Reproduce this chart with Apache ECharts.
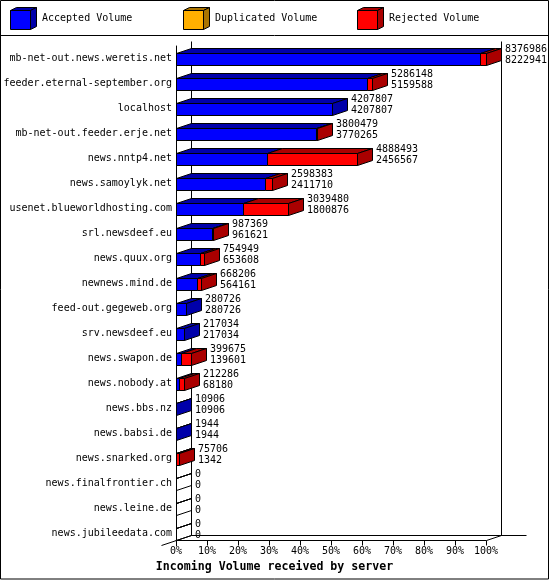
<!DOCTYPE html>
<html>
<head>
<meta charset="utf-8">
<script src="https://cdn.jsdelivr.net/npm/echarts@6/dist/echarts.min.js"></script>
<style>
html,body{margin:0;padding:0;background:#fff;}
#chart{width:550px;height:580px;}
</style>
</head>
<body>
<div id="chart"></div>
<script>
// ---- data ----
const categories = [
  'mb-net-out.news.weretis.net',
  'feeder.eternal-september.org',
  'localhost',
  'mb-net-out.feeder.erje.net',
  'news.nntp4.net',
  'news.samoylyk.net',
  'usenet.blueworldhosting.com',
  'srl.newsdeef.eu',
  'news.quux.org',
  'newnews.mind.de',
  'feed-out.gegeweb.org',
  'srv.newsdeef.eu',
  'news.swapon.de',
  'news.nobody.at',
  'news.bbs.nz',
  'news.babsi.de',
  'news.snarked.org',
  'news.finalfrontier.ch',
  'news.leine.de',
  'news.jubileedata.com'
];
const totalVolume = [8376986, 5286148, 4207807, 3800479, 4888493, 2598383, 3039480, 987369, 754949, 668206, 280726, 217034, 399675, 212286, 10906, 1944, 75706, 0, 0, 0];
const acceptedVolume = [8222941, 5159588, 4207807, 3770265, 2456567, 2411710, 1800876, 961621, 653608, 564161, 280726, 217034, 139601, 68180, 10906, 1944, 1342, 0, 0, 0];
const duplicatedVolume = [0, 0, 0, 0, 0, 0, 0, 0, 0, 0, 0, 0, 0, 0, 0, 0, 0, 0, 0, 0];
const seriesNames = ['Accepted Volume', 'Duplicated Volume', 'Rejected Volume'];
const axisTitle = 'Incoming Volume received by server';

// ---- styling ----
const FRONT = ['#0000ff', '#ffaf00', '#ff0000'];
const DARK = ['#0000aa', '#aa7400', '#aa0000'];
const DX = 15, DY = -5;
const FONT = '"DejaVu Sans Mono", "Liberation Mono", monospace';

// ---- derived data ----
const rejectedVolume = totalVolume.map((t, i) => t - acceptedVolume[i] - duplicatedVolume[i]);
const maxTotal = Math.max(...totalVolume);
const parts = categories.map((_, i) => [acceptedVolume[i], duplicatedVolume[i], rejectedVolume[i]]);
function pct(v) { return v / maxTotal * 100; }

const segData = [0, 1, 2].map(k => categories.map((_, i) => {
  const p = parts[i];
  let start = 0;
  for (let j = 0; j < k; j++) start += p[j];
  let lastIdx = -1;
  for (let j = 0; j < 3; j++) if (p[j] > 0) lastIdx = j;
  const empty = (totalVolume[i] === 0 && k === 0) ? 1 : 0;
  return [i, pct(start), pct(start + p[k]), k === lastIdx ? 1 : 0, empty];
}));
const labelData = categories.map((_, i) => [i, pct(totalVolume[i]), totalVolume[i], acceptedVolume[i]]);

function px(v) { return Math.round(v) + 0.5; }

function makeBarRenderer(k) {
  return function (params, api) {
    const i = api.value(0), s = api.value(1), e = api.value(2);
    const last = api.value(3), empty = api.value(4);
    if (!(e > s) && !empty) return null;
    const c = api.coord([0, i])[1];
    const top = Math.floor(c - 5) + 0.5;
    const bot = top + 12;
    const xa = px(api.coord([s, i])[0]);
    const xb = px(api.coord([e, i])[0]);
    const fill = empty ? 'rgba(0,0,0,0)' : FRONT[k];
    const dark = empty ? 'rgba(0,0,0,0)' : DARK[k];
    const st = (f) => ({ fill: f, stroke: '#000', lineWidth: 1 });
    const children = [];
    children.push({ type: 'polygon', shape: { points: [[xa, top], [xb, top], [xb, bot], [xa, bot]] }, style: st(fill) });
    children.push({ type: 'polygon', shape: { points: [[xa, top], [xb, top], [xb + DX, top + DY], [xa + DX, top + DY]] }, style: st(dark) });
    if (last || empty) {
      children.push({ type: 'polygon', shape: { points: [[xb, top], [xb + DX, top + DY], [xb + DX, bot + DY], [xb, bot]] }, style: st(dark) });
    }
    return { type: 'group', children: children };
  };
}

function renderLabels(params, api) {
  const i = api.value(0), e = api.value(1);
  const c = api.coord([0, i])[1];
  const x = px(api.coord([e, i])[0]) + DX + 3.5;
  const ts = (t) => ({ text: t, fill: '#000', font: '10px ' + FONT, align: 'left', verticalAlign: 'middle' });
  return {
    type: 'group',
    children: [
      { type: 'text', x: x, y: c - 9.2, style: ts(String(api.value(2))) },
      { type: 'text', x: x, y: c + 2.2, style: ts(String(api.value(3))) }
    ]
  };
}

function renderFrame(params, api) {
  const n = categories.length;
  const x0 = px(api.coord([0, 0])[0]);
  const x100 = px(api.coord([100, 0])[0]);
  const yTop = Math.floor(api.coord([0, 0])[1] - api.size([0, 1])[1] / 2) + 0.5;
  const yAx = Math.floor(api.coord([0, n - 1])[1] - 5) + 0.5 + 12;
  const ln = (a, b) => ({ type: 'line', shape: { x1: a[0], y1: a[1], x2: b[0], y2: b[1] }, style: { stroke: '#000', lineWidth: 1 } });
  return {
    type: 'group',
    children: [
      ln([x0 + DX, yTop + DY], [x0 + DX, yAx + DY]),
      ln([x100 + DX, yTop + DY], [x100 + DX, yAx + DY]),
      ln([x0 + DX, yAx + DY], [x100 + DX + 25, yAx + DY]),
      ln([x100, yAx], [x100 + DX, yAx + DY]),
      ln([x0 - DX, yAx - DY], [x0 + DX, yAx + DY])
    ]
  };
}

function cubeIcon(front, dark) {
  const svg = '<svg xmlns="http://www.w3.org/2000/svg" width="27" height="23" viewBox="0 0 27 23">' +
    '<polygon points="0.5,3.5 20.5,3.5 20.5,22.5 0.5,22.5" fill="' + front + '" stroke="#000" stroke-width="1"/>' +
    '<polygon points="0.5,3.5 6.5,0.5 26.5,0.5 20.5,3.5" fill="' + dark + '" stroke="#000" stroke-width="1"/>' +
    '<polygon points="20.5,3.5 26.5,0.5 26.5,19.5 20.5,22.5" fill="' + dark + '" stroke="#000" stroke-width="1"/>' +
    '</svg>';
  return 'image://data:image/svg+xml;charset=utf-8,' + encodeURIComponent(svg);
}

const legendLefts = [10, 183, 357];
const legends = seriesNames.map((name, k) => ({
  data: [{ name: name, icon: cubeIcon(FRONT[k], DARK[k]) }],
  left: legendLefts[k],
  top: 7,
  padding: 0,
  itemWidth: 27,
  itemHeight: 23,
  selectedMode: false,
  textStyle: { fontFamily: FONT, fontSize: 10, color: '#000' }
}));

const chart = echarts.init(document.getElementById('chart'), null, { renderer: 'canvas' });
chart.setOption({
  animation: false,
  backgroundColor: '#fff',
  legend: legends,
  grid: { left: 176, right: 64, top: 46, bottom: 34, containLabel: false },
  xAxis: {
    type: 'value',
    min: 0,
    max: 100,
    interval: 10,
    offset: -5.5,
    axisLine: { show: true, lineStyle: { color: '#000', width: 1 } },
    axisTick: { show: true, length: 5, inside: false, lineStyle: { color: '#000' } },
    axisLabel: { formatter: '{value}%', margin: 6, color: '#000', fontFamily: FONT, fontSize: 10 },
    splitLine: { show: false },
    name: axisTitle,
    nameLocation: 'middle',
    nameGap: 19,
    nameTextStyle: { fontFamily: FONT, fontWeight: 'bold', fontSize: 11.6, color: '#000', padding: [0, 113, 0, 0] }
  },
  yAxis: {
    type: 'category',
    inverse: true,
    data: categories,
    axisLine: { show: true, lineStyle: { color: '#000', width: 1 } },
    axisTick: { show: false },
    axisLabel: { interval: 0, margin: 4, color: '#000', fontFamily: FONT, fontSize: 10 },
    splitLine: { show: false }
  },
  graphic: [
    { type: 'rect', shape: { x: 0.5, y: 0.5, width: 548, height: 578.5 }, style: { fill: 'none', stroke: '#000', lineWidth: 1 }, silent: true },
    { type: 'line', shape: { x1: 0, y1: 35.5, x2: 549, y2: 35.5 }, style: { stroke: '#000', lineWidth: 1 }, silent: true }
  ],
  series: [
    { type: 'custom', name: 'frame', silent: true, z: 1, renderItem: renderFrame, data: [[0, 0]], clip: false },
    ...seriesNames.map((name, k) => ({
      type: 'custom', name: name, silent: true, z: 2, clip: false,
      itemStyle: { color: FRONT[k] },
      renderItem: makeBarRenderer(k),
      encode: { x: [1, 2], y: 0 },
      data: segData[k]
    })),
    { type: 'custom', name: 'values', silent: true, z: 3, clip: false, renderItem: renderLabels, encode: { x: 1, y: 0 }, data: labelData }
  ]
});
</script>
</body>
</html>
